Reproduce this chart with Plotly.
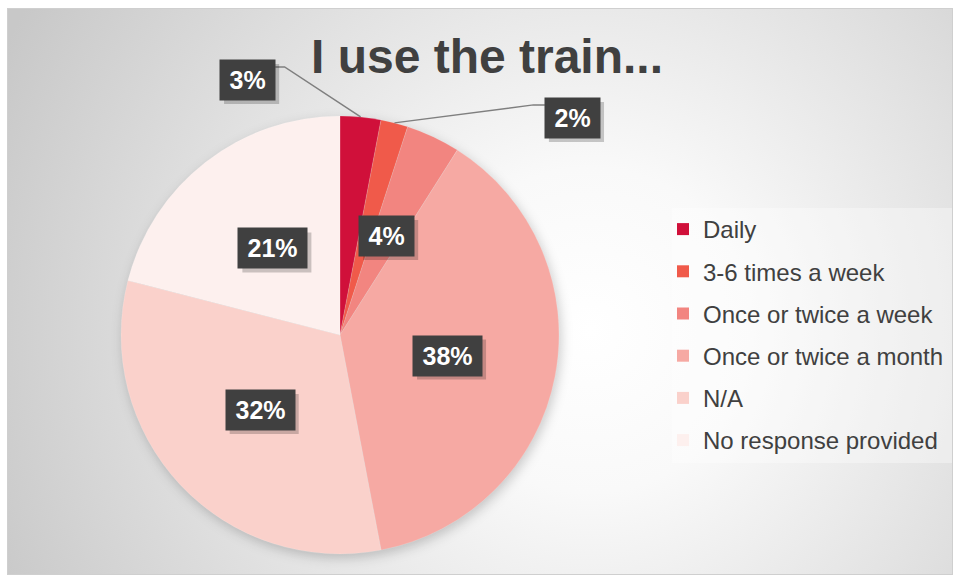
import base64
import math
import plotly.graph_objects as go

# ---------------- data ----------------
categories = ["Daily", "3-6 times a week", "Once or twice a week",
              "Once or twice a month", "N/A", "No response provided"]
values = [3, 2, 4, 38, 32, 21]
colors = ["#D0103A", "#F05A4A", "#F28580", "#F6A9A3", "#FAD1CB", "#FDF0EE"]
title_text = "I use the train..."

# ---------------- geometry ----------------
W, H = 957, 579
CX, CY, R = 340, 335, 219
FONT = "Liberation Sans, Arial, sans-serif"


def px(x):
    return x / W


def py(y):
    return 1 - y / H


total = sum(values)
cum = 0
mids = []
for v in values:
    mids.append((cum + v / 2) / total)
    cum += v


def polar(frac, k):
    a = 2 * math.pi * frac
    return CX + k * math.sin(a), CY - k * math.cos(a)


# ---------------- background (gradient + pie shadow) ----------------
svg = f'''<svg xmlns="http://www.w3.org/2000/svg" width="{W}" height="{H}" viewBox="0 0 {W} {H}" preserveAspectRatio="none">
<defs>
<radialGradient id="g" gradientUnits="userSpaceOnUse" cx="590" cy="330" r="650">
<stop offset="0" stop-color="#ffffff"/>
<stop offset="0.25" stop-color="#f9f9f9"/>
<stop offset="1" stop-color="#c8c8c8"/>
</radialGradient>
<filter id="b" x="-30%" y="-30%" width="160%" height="160%"><feGaussianBlur stdDeviation="6"/></filter>
</defs>
<rect x="0" y="0" width="{W}" height="{H}" fill="#ffffff"/>
<rect x="7.5" y="8.5" width="945" height="566" fill="url(#g)" stroke="#cfcfcf" stroke-width="1"/>
<circle cx="{CX + 2}" cy="{CY + 4}" r="{R}" fill="#000000" fill-opacity="0.2" filter="url(#b)"/>
</svg>'''
svg_uri = "data:image/svg+xml;base64," + base64.b64encode(svg.encode()).decode()

fig = go.Figure()

fig.add_trace(go.Pie(
    labels=categories, values=values, sort=False, direction="clockwise",
    rotation=0, textinfo="none", hoverinfo="label+percent",
    marker=dict(colors=colors, line=dict(color="rgba(255,255,255,0.3)", width=0.5)),
    domain=dict(x=[px(CX - R), px(CX + R)], y=[py(CY + R), py(CY - R)]),
    showlegend=False,
))

# legend entries
for name, c in zip(categories, colors):
    fig.add_trace(go.Scatter(
        x=[None], y=[None], mode="markers", name=name, legendgroup=name,
        marker=dict(symbol="square", size=12, color=c), showlegend=True,
    ))

# ---------------- data labels ----------------
annotations = []
shapes = []
LBL_FONT = 25
BOX_H = 40


def box_w(txt):
    nd = len(txt) - 1
    return LBL_FONT * (0.556 * nd + 0.889) + 19


# outside label placement: (box center offset, elbow offset) from slice edge point
outside = {
    0: ((-113, -37), (-76, -50), "left"),
    1: ((178, -5), (139, -18), "right"),
}

for i, v in enumerate(values):
    txt = f"{v}%"
    bw = box_w(txt)
    if i in outside:
        ex, ey = polar(mids[i], R)
        (bx, by), (elx, ely), side = outside[i]
        cx_, cy_ = ex + bx, ey + by
        elbx, elby = ex + elx, ey + ely
        endx = cx_ + bw / 2 if side == "left" else cx_ - bw / 2
        shapes.append(dict(
            type="path", xref="paper", yref="paper",
            path=f"M {px(ex)} {py(ey)} L {px(elbx)} {py(elby)} L {px(endx)} {py(elby)}",
            line=dict(color="#7f7f7f", width=1.5),
        ))
    else:
        cx_, cy_ = polar(mids[i], 0.5 * R)
    # drop shadow of the label box
    shapes.append(dict(
        type="rect", xref="paper", yref="paper",
        x0=px(cx_ - bw / 2 + 4), x1=px(cx_ + bw / 2 + 4),
        y0=py(cy_ + BOX_H / 2 + 4), y1=py(cy_ - BOX_H / 2 + 4),
        fillcolor="rgba(0,0,0,0.2)", line=dict(width=0),
    ))
    annotations.append(dict(
        x=px(cx_), y=py(cy_), xref="paper", yref="paper",
        text=f"<b>{txt}</b>", showarrow=False, xanchor="center", yanchor="middle",
        width=bw, height=BOX_H, borderpad=0, bgcolor="#404040",
        font=dict(family=FONT, size=LBL_FONT, color="#ffffff"),
    ))

# legend background box
shapes.append(dict(
    type="rect", xref="paper", yref="paper", layer="below",
    x0=px(672), x1=px(952), y0=py(463), y1=py(208),
    fillcolor="rgba(255,255,255,0.35)", line=dict(width=0),
))

fig.update_layout(
    width=W, height=H,
    margin=dict(l=0, r=0, t=0, b=0),
    paper_bgcolor="#ffffff", plot_bgcolor="rgba(0,0,0,0)",
    xaxis=dict(visible=False), yaxis=dict(visible=False),
    title=dict(text=f"<b>{title_text}</b>", x=px(487), xanchor="center",
               y=py(56), yanchor="middle", xref="container", yref="container",
               font=dict(family=FONT, size=48, color="#404040")),
    legend=dict(x=px(663), y=py(207), xanchor="left", yanchor="top",
                font=dict(family=FONT, size=24, color="#404040"),
                bgcolor="rgba(0,0,0,0)", tracegroupgap=8, traceorder="grouped"),
    images=[dict(source=svg_uri, xref="paper", yref="paper", x=0, y=1,
                 sizex=1, sizey=1, sizing="stretch", layer="below",
                 xanchor="left", yanchor="top")],
    annotations=annotations,
    shapes=shapes,
)

fig.write_html("out.html", config={"displayModeBar": False},
               post_script="document.body.style.margin='0px';document.body.style.overflow='hidden';")
